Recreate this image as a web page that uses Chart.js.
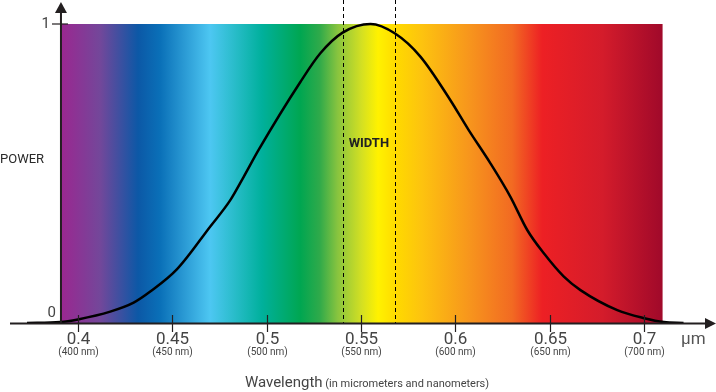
<!DOCTYPE html>
<html>
<head>
<meta charset="utf-8">
<script src="https://cdn.jsdelivr.net/npm/chart.js@4/dist/chart.umd.min.js"></script>
<style>
    html, body { margin: 0; padding: 0; background: #fff; }
    #wrap { width: 716px; height: 392px; }
</style>
</head>
<body>
<div id="wrap"><canvas id="chart" width="716" height="392"></canvas></div>
<script>
// wavelength (µm) and relative power
const wavelength = [0.373, 0.3906, 0.4, 0.4171, 0.4295, 0.4383, 0.4525, 0.470, 0.4807, 0.4878, 0.4957, 0.5179, 0.5284,
    0.5402, 0.555, 0.568, 0.5814, 0.5973, 0.607, 0.6185, 0.6291, 0.638, 0.6468, 0.6574, 0.6662, 0.6857, 0.70, 0.7104, 0.7208];
const power = [0, 0.003, 0.012, 0.038, 0.068, 0.105, 0.18, 0.322, 0.411, 0.489, 0.579, 0.807, 0.902,
    0.971, 1.0, 0.968, 0.891, 0.745, 0.645, 0.534, 0.422, 0.311, 0.233, 0.155, 0.11, 0.043, 0.016, 0.003, 0];

const tickValues = [0.4, 0.45, 0.5, 0.55, 0.6, 0.65, 0.7];
const tickLabels = ['0.4', '0.45', '0.5', '0.55', '0.6', '0.65', '0.7'];
const tickNm = ['(400 nm)', '(450 nm)', '(500 nm)', '(550 nm)', '(600 nm)', '(650 nm)', '(700 nm)'];

const widthBounds = [0.5402, 0.568];   // dashed lines
const spectrumRange = [0.391, 0.7097];  // coloured band
const axisRange = [0.364, 0.738];

const spectrumStops = [
    [0, '#9b2790'], [0.065, '#73479a'], [0.128, '#0c58a6'], [0.165, '#0a70b8'], [0.248, '#4dc7f2'],
    [0.334, '#00b09c'], [0.398, '#00a651'], [0.43, '#2faa4a'], [0.46, '#88c43f'], [0.5, '#d4e022'],
    [0.527, '#fff200'], [0.56, '#ffd800'], [0.6, '#fdc30f'], [0.681, '#f7941d'], [0.75, '#f26a22'],
    [0.8, '#ed2024'], [0.9, '#d41c2b'], [1, '#a0092a']
];

const dark = '#231f20';
const textCol = '#444';

const spectrumPlugin = {
    id: 'spectrum',
    beforeDatasetsDraw: chart => {
        const {ctx, scales: {x, y}} = chart;
        const x0 = x.getPixelForValue(spectrumRange[0]);
        const x1 = x.getPixelForValue(spectrumRange[1]);
        const yTop = y.getPixelForValue(1);
        const yBot = y.getPixelForValue(0);
        ctx.save();
        const g = ctx.createLinearGradient(x0, 0, x1, 0);
        spectrumStops.forEach(s => g.addColorStop(s[0], s[1]));
        ctx.fillStyle = g;
        ctx.fillRect(x0, yTop, x1 - x0, yBot - yTop);

        // dashed width markers
        ctx.strokeStyle = '#000';
        ctx.lineWidth = 1;
        ctx.setLineDash([4, 3]);
        widthBounds.forEach(v => {
            const px = Math.round(x.getPixelForValue(v)) + 0.5;
            ctx.beginPath();
            ctx.moveTo(px, 0);
            ctx.lineTo(px, yBot);
            ctx.stroke();
        });
        ctx.restore();
    },
    afterDatasetsDraw: chart => {
        const {ctx, scales: {x, y}} = chart;
        const yBot = y.getPixelForValue(0);
        const yOne = y.getPixelForValue(1);
        const xAxis = x.getPixelForValue(spectrumRange[0]);
        const left = x.getPixelForValue(axisRange[0]);
        const right = x.getPixelForValue(axisRange[1]);
        ctx.save();
        ctx.setLineDash([]);
        ctx.strokeStyle = dark;
        ctx.fillStyle = dark;
        ctx.lineWidth = 2;

        // x axis with arrow
        ctx.beginPath();
        ctx.moveTo(left, yBot + 0.5);
        ctx.lineTo(right - 8, yBot + 0.5);
        ctx.stroke();
        ctx.beginPath();
        ctx.moveTo(right, yBot + 0.5);
        ctx.lineTo(right - 11, yBot - 5);
        ctx.lineTo(right - 11, yBot + 6);
        ctx.closePath();
        ctx.fill();

        // y axis with arrow
        ctx.beginPath();
        ctx.moveTo(xAxis, yBot + 1);
        ctx.lineTo(xAxis, 12);
        ctx.stroke();
        ctx.beginPath();
        ctx.moveTo(xAxis, 2);
        ctx.lineTo(xAxis - 6, 13);
        ctx.lineTo(xAxis + 6, 13);
        ctx.closePath();
        ctx.fill();

        // tick at 1
        ctx.lineWidth = 1.2;
        ctx.beginPath();
        ctx.moveTo(xAxis - 9, yOne);
        ctx.lineTo(xAxis + 7, yOne);
        ctx.stroke();

        // x ticks
        tickValues.forEach((v, i) => {
            const px = Math.round(x.getPixelForValue(v)) + 0.5;
            ctx.strokeStyle = dark;
            ctx.lineWidth = 1.2;
            ctx.beginPath();
            ctx.moveTo(px, yBot - 8);
            ctx.lineTo(px, yBot + 9);
            ctx.stroke();
            ctx.fillStyle = textCol;
            ctx.textAlign = 'center';
            ctx.textBaseline = 'middle';
            ctx.font = '17px Roboto';
            ctx.fillText(tickLabels[i], px, yBot + 17);
            ctx.font = '10px Roboto';
            ctx.fillText(tickNm[i], px, yBot + 29);
        });

        ctx.fillStyle = textCol;
        ctx.textBaseline = 'middle';
        ctx.textAlign = 'right';
        ctx.font = '15px Roboto';
        ctx.fillText('1', xAxis - 11, yOne);
        ctx.fillText('0', xAxis - 5, yBot - 10);

        ctx.textAlign = 'left';
        ctx.font = '13px Roboto';
        ctx.fillStyle = '#2a2a2a';
        ctx.fillText('POWER', 0, 160);

        ctx.font = '17px Roboto';
        ctx.fillStyle = '#555';
        ctx.fillText('µm', 681, yBot + 17);

        ctx.font = 'bold 13px Roboto';
        ctx.fillStyle = '#222';
        ctx.textAlign = 'center';
        ctx.fillText('WIDTH', x.getPixelForValue((widthBounds[0] + widthBounds[1]) / 2), 144);

        // axis title
        ctx.textAlign = 'left';
        ctx.fillStyle = textCol;
        const t1 = 'Wavelength';
        ctx.font = '15px Roboto';
        const w1 = ctx.measureText(t1).width;
        ctx.font = '11px Roboto';
        const t2 = ' (in micrometers and nanometers)';
        const w2 = ctx.measureText(t2).width;
        const start = 367 - (w1 + w2) / 2;
        ctx.font = '15px Roboto';
        ctx.fillText(t1, start, 383);
        ctx.font = '11px Roboto';
        ctx.fillText(t2, start + w1, 384);
        ctx.restore();
    }
};

new Chart(document.getElementById('chart'), {
    type: 'line',
    data: {
        datasets: [{
            data: wavelength.map((w, i) => ({x: w, y: power[i]})),
            borderColor: '#000',
            borderWidth: 2.5,
            pointRadius: 0,
            cubicInterpolationMode: 'monotone',
            fill: false
        }]
    },
    options: {
        responsive: false,
        animation: false,
        layout: {padding: {left: 10, right: 0, top: 2, bottom: 69}},
        scales: {
            x: {type: 'linear', min: axisRange[0], max: axisRange[1], display: false},
            y: {min: 0, max: 321 / 299, display: false}
        },
        plugins: {
            legend: {display: false},
            tooltip: {enabled: false}
        }
    },
    plugins: [spectrumPlugin]
});
</script>
</body>
</html>
